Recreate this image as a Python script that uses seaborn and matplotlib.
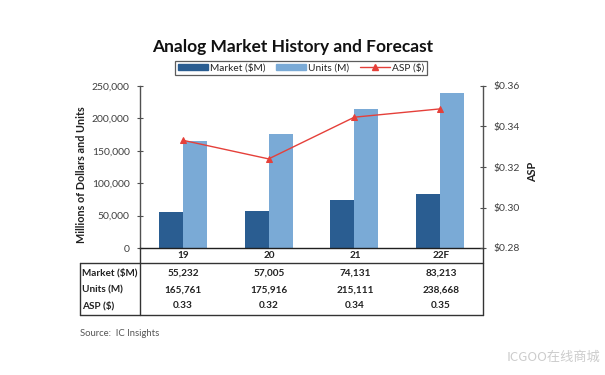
import matplotlib
matplotlib.use("Agg")
import matplotlib.pyplot as plt
import seaborn as sns
import pandas as pd
from matplotlib.lines import Line2D
from matplotlib.patches import Patch

years = ["19", "20", "21", "22F"]
market = [55232, 57005, 74131, 83213]
units = [165761, 175916, 215111, 238668]
asp = [0.3332, 0.3240, 0.3446, 0.3487]
market_lbl = ["55,232", "57,005", "74,131", "83,213"]
units_lbl = ["165,761", "175,916", "215,111", "238,668"]
asp_lbl = ["0.33", "0.32", "0.34", "0.35"]
row_names = ["Market ($M)", "Units (M)", "ASP ($)"]
left_ticks = [0, 50000, 100000, 150000, 200000, 250000]
right_ticks = [0.28, 0.30, 0.32, 0.34, 0.36]

sns.set_theme(style="white")
plt.rcParams["font.family"] = ["Lato", "DejaVu Sans"]

C_DARK = "#2A5D91"
C_LIGHT = "#7AAAD6"
C_RED = "#E5403A"
TXT = "#404040"

W, H = 605, 375
fig = plt.figure(figsize=(W / 100, H / 100), dpi=100)

def fx(x):
    return x / W

def fy(y):
    return 1 - y / H

ax = fig.add_axes([fx(140), fy(248), (483 - 140) / W, (248 - 86) / H])

df = pd.DataFrame({
    "year": years * 2,
    "value": market + units,
    "series": ["Market ($M)"] * 4 + ["Units (M)"] * 4,
})
sns.barplot(data=df, x="year", y="value", hue="series",
            palette=[C_DARK, C_LIGHT], width=0.56, ax=ax,
            legend=False, saturation=1, linewidth=0)
ax.set_xlim(-0.5, 3.5)
ax.set_ylim(0, 250000)
ax.set_yticks(left_ticks)
ax.set_yticklabels([f"{v:,}" for v in left_ticks], color=TXT, fontsize=7.5)
ax.set_xticks([])
ax.set_xlabel("")
ax.set_ylabel("Millions of Dollars and Units", fontsize=7.8, fontweight="bold",
              color="#202020")
ax.yaxis.set_label_coords(-0.155, 0.45)
for s in ["top", "right"]:
    ax.spines[s].set_visible(False)
ax.spines["left"].set_color("#505050")
ax.spines["left"].set_linewidth(1.0)
ax.spines["bottom"].set_color("#202020")
ax.spines["bottom"].set_linewidth(1.0)
ax.tick_params(axis="y", direction="inout", length=5, width=0.8,
               colors="#505050", labelcolor=TXT, pad=5, left=True)

ax2 = ax.twinx()
sns.lineplot(x=list(range(4)), y=asp, ax=ax2, color=C_RED, lw=1.0,
             marker="^", markersize=5, markeredgecolor=C_RED)
ax2.set_ylim(0.28, 0.36)
ax2.set_yticks(right_ticks)
ax2.set_yticklabels([f"${v:.2f}" for v in right_ticks], fontsize=7.5, color=TXT)
ax2.set_ylabel("ASP", fontsize=7.8, fontweight="bold", color="#202020")
ax2.yaxis.set_label_coords(1.128, 0.47)
for s in ["top", "left", "bottom"]:
    ax2.spines[s].set_visible(False)
ax2.spines["right"].set_color("#505050")
ax2.spines["right"].set_linewidth(1.0)
ax2.tick_params(axis="y", direction="inout", length=5, width=0.8,
                colors="#505050", labelcolor=TXT, pad=5, right=True)
ax2.set_xlim(-0.5, 3.5)

# Title
fig.text(fx(293), fy(47), "Analog Market History and Forecast",
         ha="center", va="center", fontsize=12.5, fontweight="bold", color="#111111")

# Legend
handles = [
    Patch(facecolor=C_DARK, edgecolor=C_DARK),
    Patch(facecolor=C_LIGHT, edgecolor=C_LIGHT),
    Line2D([0], [0], color=C_RED, lw=1, marker="^", markersize=4),
]
leg = fig.legend(handles, ["Market ($M)", "Units (M)", "ASP ($)"],
                 loc="center", bbox_to_anchor=(fx(301), fy(68)), ncol=3,
                 fontsize=7.3, frameon=True, fancybox=False, handlelength=3.0,
                 handleheight=0.5, handletextpad=0.2, columnspacing=1.0,
                 borderpad=0.25)
leg.get_frame().set_edgecolor("#333333")
leg.get_frame().set_linewidth(0.9)
for t in leg.get_texts():
    t.set_color("#222222")

# Table (drawn in figure pixel coordinates)
tax = fig.add_axes([0, 0, 1, 1], facecolor="none")
tax.set_xlim(0, W)
tax.set_ylim(H, 0)
tax.axis("off")
lc = "#333333"
lw = 1.0
tax.plot([80, 483], [263, 263], color=lc, lw=lw)
tax.plot([80, 483], [315, 315], color=lc, lw=lw)
tax.plot([80, 80], [263, 315], color=lc, lw=lw)
tax.plot([140, 140], [248, 315], color=lc, lw=lw)
tax.plot([483, 483], [248, 315], color=lc, lw=lw)

centers = [183, 269, 355, 441]
for cx, y in zip(centers, years):
    tax.text(cx, 256, y, ha="center", va="center", fontsize=7.2,
             fontweight="bold", color="#222222")
rows_y = [273, 290, 306]
for ry, name, vals in zip(rows_y, row_names, [market_lbl, units_lbl, asp_lbl]):
    tax.text(82, ry, name, ha="left", va="center", fontsize=7.2,
             fontweight="bold", color="#222222")
    for cx, v in zip(centers, vals):
        tax.text(cx, ry, v, ha="center", va="center", fontsize=7.2,
                 fontweight="bold", color="#222222")

tax.text(80, 333, "Source:  IC Insights", ha="left", va="center",
         fontsize=6.8, color="#555555")
tax.text(600, 357, "ICGOO在线商城", ha="right", va="center", fontsize=9.5,
         color="#cccccc", family=["Noto Sans CJK SC", "DejaVu Sans"])

fig.savefig("out.png", dpi=100, facecolor="white")
